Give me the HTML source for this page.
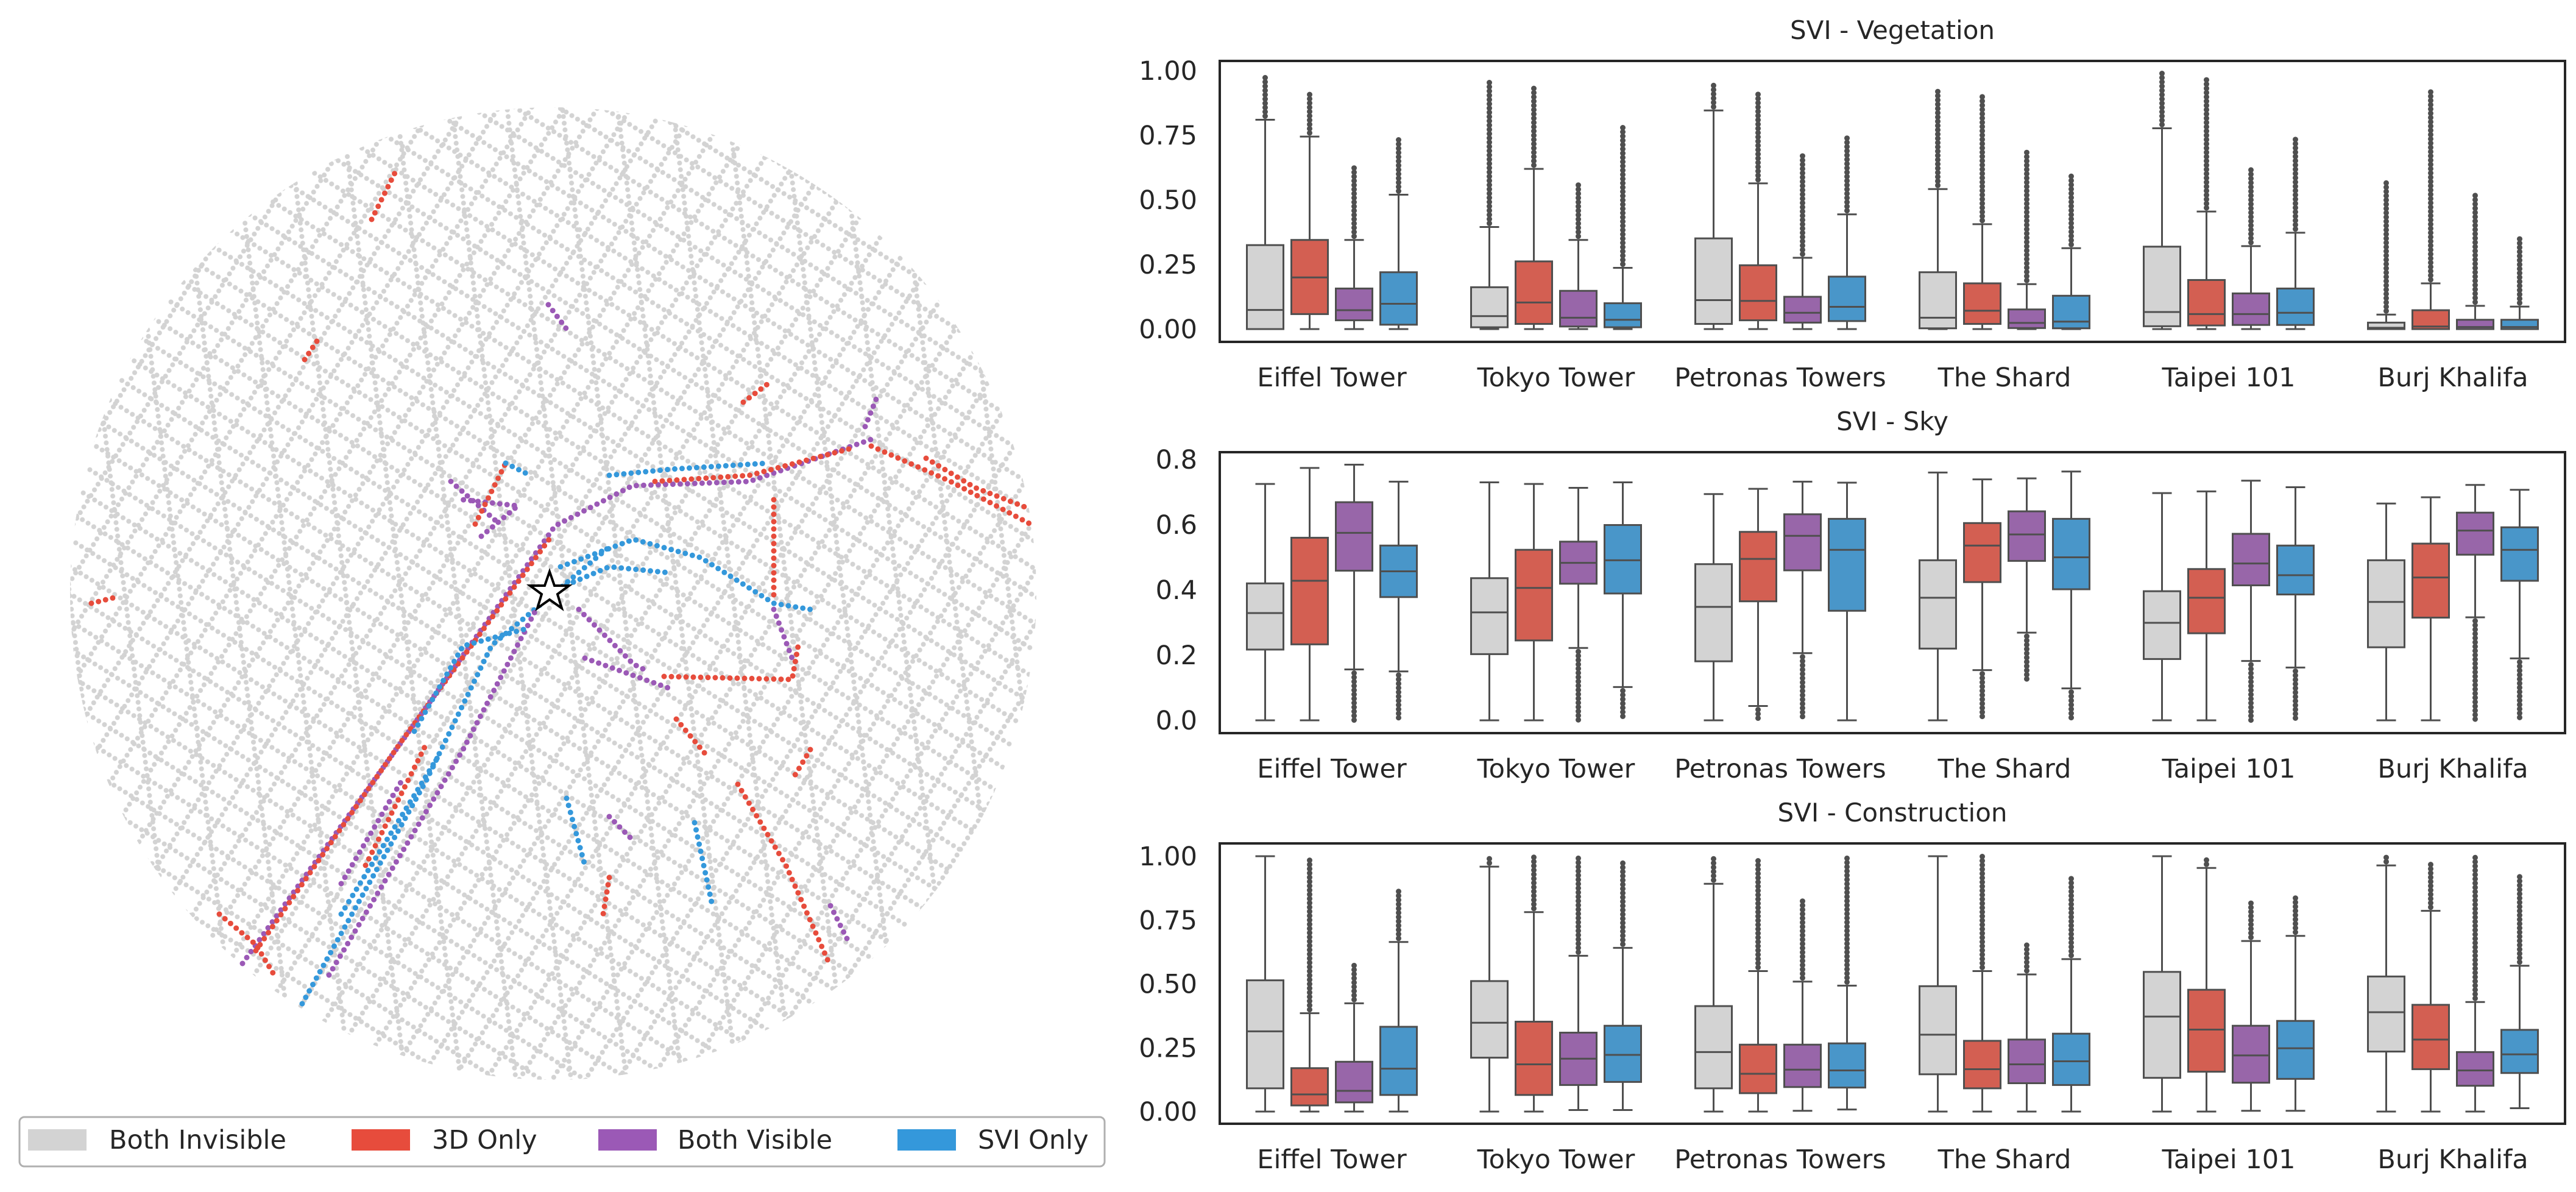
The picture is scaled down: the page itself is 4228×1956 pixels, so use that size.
<!DOCTYPE html>
<html><head><meta charset="utf-8"><style>
html,body{margin:0;padding:0;background:#fff;}
svg{display:block;font-family:"DejaVu Sans","Liberation Sans",sans-serif;}
</style></head><body>
<svg id="fig" xmlns="http://www.w3.org/2000/svg" width="4228" height="1956" viewBox="0 0 4228 1956">
<defs>
<pattern id="streetA" width="11" height="38" patternUnits="userSpaceOnUse" patternTransform="rotate(32)"><circle cx="5.5" cy="5.5" r="4" fill="#d3d3d3"/></pattern>
<pattern id="streetB" width="11" height="46" patternUnits="userSpaceOnUse" patternTransform="rotate(-58)"><circle cx="5.5" cy="5.5" r="4" fill="#d3d3d3"/></pattern>
<pattern id="streetC" width="11" height="90" patternUnits="userSpaceOnUse" patternTransform="rotate(83)"><circle cx="5.5" cy="5.5" r="4" fill="#d3d3d3"/></pattern>
<clipPath id="mapclip"><ellipse cx="908" cy="974" rx="793" ry="798"/></clipPath>
</defs>
<g id="map" clip-path="url(#mapclip)">
<rect x="100" y="170" width="1620" height="1610" fill="url(#streetA)"/>
<rect x="100" y="170" width="1620" height="1610" fill="url(#streetB)"/>
<rect x="100" y="170" width="1620" height="1610" fill="url(#streetC)"/>
</g>
<g id="mapcolored"></g>
<path d="M902,938 L910,961 L934,961 L915,975 L922,998 L902,984 L882,998 L889,975 L870,961 L894,961 Z" fill="#fff" stroke="#000" stroke-width="4" stroke-linejoin="miter"/>
<g>
<rect x="32" y="1833" width="1781" height="81" rx="8" fill="#fff" stroke="#b0b0b0" stroke-width="3"/>
<rect x="46" y="1853" width="96" height="35" fill="#d3d3d3"/>
<text x="179" y="1885" font-size="43" fill="#262626">Both Invisible</text>
<rect x="577" y="1853" width="96" height="35" fill="#e74c3c"/>
<text x="709" y="1885" font-size="43" fill="#262626">3D Only</text>
<rect x="982" y="1853" width="96" height="35" fill="#9b59b6"/>
<text x="1112" y="1885" font-size="43" fill="#262626">Both Visible</text>
<rect x="1473" y="1853" width="96" height="35" fill="#3498db"/>
<text x="1605" y="1885" font-size="43" fill="#262626">SVI Only</text>
</g>
<g id="charts"></g>
</svg>
<script>
// ===== chart data =====
const categories = ["Eiffel Tower","Tokyo Tower","Petronas Towers","The Shard","Taipei 101","Burj Khalifa"];
const hues = ["Both Invisible","3D Only","Both Visible","SVI Only"];
const panelTitles = ["SVI - Vegetation","SVI - Sky","SVI - Construction"];
const tickVeg = [0,0.25,0.5,0.75,1.0];
const tickLabelsVeg = ["0.00","0.25","0.50","0.75","1.00"];
const tickSky = [0,0.2,0.4,0.6,0.8];
const tickLabelsSky = ["0.0","0.2","0.4","0.6","0.8"];
const tickCon = [0,0.25,0.5,0.75,1.0];
const tickLabelsCon = ["0.00","0.25","0.50","0.75","1.00"];
// per box (category-major, hue-minor): [whislo, q1, median, q3, whishi]
const vegStats = [
[0,0.00,0.074,0.325,0.81],[0,0.058,0.20,0.345,0.745],[0,0.034,0.073,0.157,0.345],[0,0.017,0.098,0.22,0.52],
[0,0.007,0.05,0.162,0.395],[0,0.02,0.103,0.262,0.62],[0,0.01,0.044,0.148,0.345],[0,0.007,0.036,0.10,0.237],
[0,0.02,0.112,0.351,0.846],[0,0.034,0.109,0.247,0.564],[0,0.025,0.063,0.125,0.276],[0,0.031,0.086,0.203,0.444],
[0,0.003,0.044,0.22,0.542],[0,0.02,0.071,0.177,0.406],[0,0.004,0.024,0.076,0.174],[0,0.003,0.029,0.129,0.313],
[0,0.011,0.066,0.319,0.777],[0,0.014,0.058,0.19,0.455],[0,0.016,0.058,0.138,0.321],[0,0.016,0.063,0.157,0.373],
[0,0,0.005,0.025,0.056],[0,0,0.01,0.073,0.177],[0,0,0.008,0.036,0.09],[0,0,0.008,0.036,0.087]];
const vegOutHi = [0.98,0.91,0.625,0.735, 0.96,0.936,0.566,0.78, 0.95,0.91,0.677,0.74, 0.93,0.91,0.684,0.605, 0.993,0.98,0.623,0.743, 0.581,0.924,0.532,0.36];
const vegOutLo = [null,null,null,null, null,null,null,null, null,null,null,null, null,null,null,null, null,null,null,null, null,null,null,null];
const skyStats = [
[0,0.217,0.329,0.42,0.725],[0,0.233,0.428,0.56,0.774],[0.156,0.459,0.575,0.669,0.784],[0.15,0.378,0.457,0.536,0.732],
[0,0.203,0.331,0.436,0.73],[0,0.245,0.406,0.523,0.725],[0.222,0.419,0.483,0.548,0.713],[0.102,0.389,0.491,0.599,0.73],
[0,0.181,0.348,0.479,0.694],[0.044,0.365,0.495,0.578,0.71],[0.206,0.46,0.566,0.632,0.732],[0,0.336,0.523,0.618,0.729],
[0,0.22,0.376,0.491,0.76],[0.154,0.424,0.536,0.605,0.739],[0.269,0.489,0.57,0.641,0.742],[0.098,0.402,0.50,0.618,0.763],
[0,0.188,0.299,0.396,0.697],[0,0.267,0.376,0.464,0.702],[0.182,0.414,0.481,0.572,0.735],[0.162,0.386,0.445,0.536,0.715],
[0,0.224,0.363,0.491,0.665],[0,0.315,0.438,0.542,0.684],[0.316,0.508,0.582,0.637,0.722],[0.19,0.428,0.523,0.592,0.707]];
const skyOutHi = [null,null,null,null, null,null,null,null, null,null,null,null, null,null,null,null, null,null,null,null, null,null,null,null];
const skyOutLo = [null,null,0,0, null,null,0,0, null,0,0,null, null,0,0.118,0, null,null,0,0, null,null,0,0];
const conStats = [
[0,0.091,0.314,0.514,1.0],[0,0.024,0.067,0.17,0.385],[0,0.036,0.081,0.195,0.424],[0,0.065,0.168,0.332,0.664],
[0,0.211,0.348,0.511,0.959],[0,0.065,0.185,0.352,0.781],[0.006,0.104,0.207,0.309,0.61],[0.006,0.116,0.222,0.336,0.641],
[0,0.091,0.233,0.413,0.892],[0,0.072,0.148,0.262,0.55],[0.003,0.096,0.164,0.262,0.509],[0.008,0.094,0.161,0.267,0.493],
[0,0.146,0.301,0.491,1.0],[0,0.091,0.166,0.277,0.55],[0,0.111,0.185,0.282,0.537],[0,0.104,0.197,0.305,0.597],
[0,0.132,0.372,0.547,1.0],[0,0.156,0.321,0.477,0.954],[0.003,0.113,0.22,0.336,0.668],[0.003,0.128,0.248,0.355,0.688],
[0,0.235,0.389,0.529,0.964],[0,0.166,0.282,0.418,0.786],[0,0.101,0.161,0.233,0.429],[0.013,0.151,0.224,0.32,0.571]];
const conOutHi = [null,1.0,0.588,0.866, 1.0,1.0,0.994,0.984, 1.0,0.994,0.84,1.0, null,1.0,0.658,0.916, null,1.0,0.83,0.838, 1.0,0.981,1.0,0.924];
const conOutLo = [null,null,null,null, null,null,null,null, null,null,null,null, null,null,null,null, null,null,null,null, null,null,null,null];

const NS = "http://www.w3.org/2000/svg";
const boxFill = ["#d3d3d3","#d35f52","#9866a9","#4996c9"];
const edge = "#4f4f4f";
function mk(tag, attrs, parent){ const e=document.createElementNS(NS,tag); for(const k in attrs) e.setAttribute(k,attrs[k]); parent.appendChild(e); return e; }

const ax = {left:2002, right:4210};
const panels = [
 {title:panelTitles[0], stats:vegStats, hi:vegOutHi, lo:vegOutLo, ticks:tickVeg, tl:tickLabelsVeg, top:100, bottom:561, y0:540, y1:116, v1:1.0, titleY:64, labY:634, name:"vegetation"},
 {title:panelTitles[1], stats:skyStats, hi:skyOutHi, lo:skyOutLo, ticks:tickSky, tl:tickLabelsSky, top:742, bottom:1203, y0:1182, y1:754, v1:0.8, titleY:706, labY:1276, name:"sky"},
 {title:panelTitles[2], stats:conStats, hi:conOutHi, lo:conOutLo, ticks:tickCon, tl:tickLabelsCon, top:1384, bottom:1844, y0:1824, y1:1405, v1:1.0, titleY:1348, labY:1917, name:"construction"}
];
const charts = document.getElementById("charts");
const groupW = (ax.right-ax.left)/categories.length;
const step = 73, bw = 60, capW = 32;
function xCat(i){ return ax.left + groupW*(i+0.5); }
function xBox(i,h){ return xCat(i) + (h-1.5)*step; }

panels.forEach(p=>{
  const yS = v => p.y0 + (p.y1-p.y0)*(v/p.v1);
  const g = mk("g",{},charts);
  
  
  const t = mk("text",{x:(ax.left+ax.right)/2, y:p.titleY, "font-size":42, "text-anchor":"middle", fill:"#262626"},g);
  t.textContent = p.title;
  
  
  p.ticks.forEach((v,k)=>{
    const tt = mk("text",{x:1965, y:yS(v)+15, "font-size":43, "text-anchor":"end", fill:"#262626"},g);
    tt.textContent = p.tl[k];
    
    
  });
  categories.forEach((c,i)=>{
    const tt = mk("text",{x:xCat(i), y:p.labY, "font-size":43, "text-anchor":"middle", fill:"#262626"},g);
    tt.textContent = c;
    
    
    hues.forEach((h,j)=>{
      const idx = i*4+j;
      const s = p.stats[idx];
      const cx = xBox(i,j);
      const bg = mk("g",{},g);
      
      
      const ln = {stroke:edge,"stroke-width":3};
      mk("line",Object.assign({x1:cx,x2:cx,y1:yS(s[0]),y2:yS(s[1])},ln),bg);
      mk("line",Object.assign({x1:cx,x2:cx,y1:yS(s[3]),y2:yS(s[4])},ln),bg);
      mk("line",Object.assign({x1:cx-capW/2,x2:cx+capW/2,y1:yS(s[0]),y2:yS(s[0])},ln),bg);
      mk("line",Object.assign({x1:cx-capW/2,x2:cx+capW/2,y1:yS(s[4]),y2:yS(s[4])},ln),bg);
      mk("rect",{x:cx-bw/2,y:yS(s[3]),width:bw,height:Math.max(1,yS(s[1])-yS(s[3])),fill:boxFill[j],stroke:edge,"stroke-width":3},bg);
      mk("line",Object.assign({x1:cx-bw/2,x2:cx+bw/2,y1:yS(s[2]),y2:yS(s[2])},ln),bg);
      const oh = p.hi[idx], ol = p.lo[idx];
      const od = {stroke:edge,"stroke-width":9,"stroke-linecap":"round","stroke-dasharray":"0 7"};
      if(oh!==null && oh>s[4]) mk("line",Object.assign({x1:cx,x2:cx,y1:yS(s[4])-6,y2:yS(oh)},od),bg);
      if(ol!==null && ol<s[0]) mk("line",Object.assign({x1:cx,x2:cx,y1:yS(s[0])+6,y2:yS(ol)},od),bg);
    });
  });
  const fr = mk("rect",{x:ax.left,y:p.top,width:ax.right-ax.left,height:p.bottom-p.top,fill:"none",stroke:"#262626","stroke-width":4},g);
  
  
});

// ===== map coloured streets (illustrative) =====
const streetColors = {r:"#e74c3c", p:"#9b59b6", b:"#3498db"};
const streets = [
 ["p","398,1581 650,1230 911,863 1038,797 1230,790 1430,721"],
 ["r","420,1560 660,1215 905,880"],
 ["b","496,1647 700,1280 807,1059 1003,895"],
 ["p","540,1600 760,1230 880,1000"],
 ["b","560,1500 720,1240"],
 ["r","1075,790 1230,780 1400,735"],
 ["b","1000,780 1100,770 1260,760"],
 ["r","1430,732 1560,790 1695,862"],
 ["p","1420,700 1440,650"],
 ["r","1520,752 1600,800 1690,835"],
 ["b","920,930 1040,885 1150,915 1270,990 1330,1000"],
 ["b","930,960 1000,930 1100,940"],
 ["p","1270,1000 1300,1080"],
 ["r","1211,1287 1290,1420 1361,1581"],
 ["p","960,1080 1100,1130"],
 ["p","950,1000 1040,1090 1060,1100"],
 ["r","1270,820 1270,980"],
 ["r","1090,1110 1300,1115 1310,1060"],
 ["p","790,880 850,830 760,820"],
 ["p","740,790 820,860"],
 ["r","780,860 830,760"],
 ["b","680,1200 760,1060 870,1030"],
 ["r","600,1420 700,1220"],
 ["p","560,1450 660,1280"],
 ["r","610,360 640,300 650,280"],
 ["p","900,500 930,540"],
 ["r","150,990 190,980"],
 ["r","1110,1180 1160,1240"],
 ["b","1140,1350 1170,1490"],
 ["r","1000,1440 990,1500"],
 ["p","1390,1540 1360,1480"],
 ["b","830,760 870,780"],
 ["r","500,590 520,560"],
 ["r","1220,660 1260,630"],
 ["r","360,1500 420,1550 450,1600"],
 ["b","930,1310 960,1420"],
 ["r","1330,1230 1300,1280"],
 ["p","1000,1340 1040,1380"]
];
const mc = document.getElementById("mapcolored");
streets.forEach(s=>{
  const pl = mk("polyline",{points:s[1],fill:"none",stroke:streetColors[s[0]],"stroke-width":9,"stroke-linecap":"round","stroke-dasharray":"0 12"},mc);
  
  
});
</script>
</body></html>
